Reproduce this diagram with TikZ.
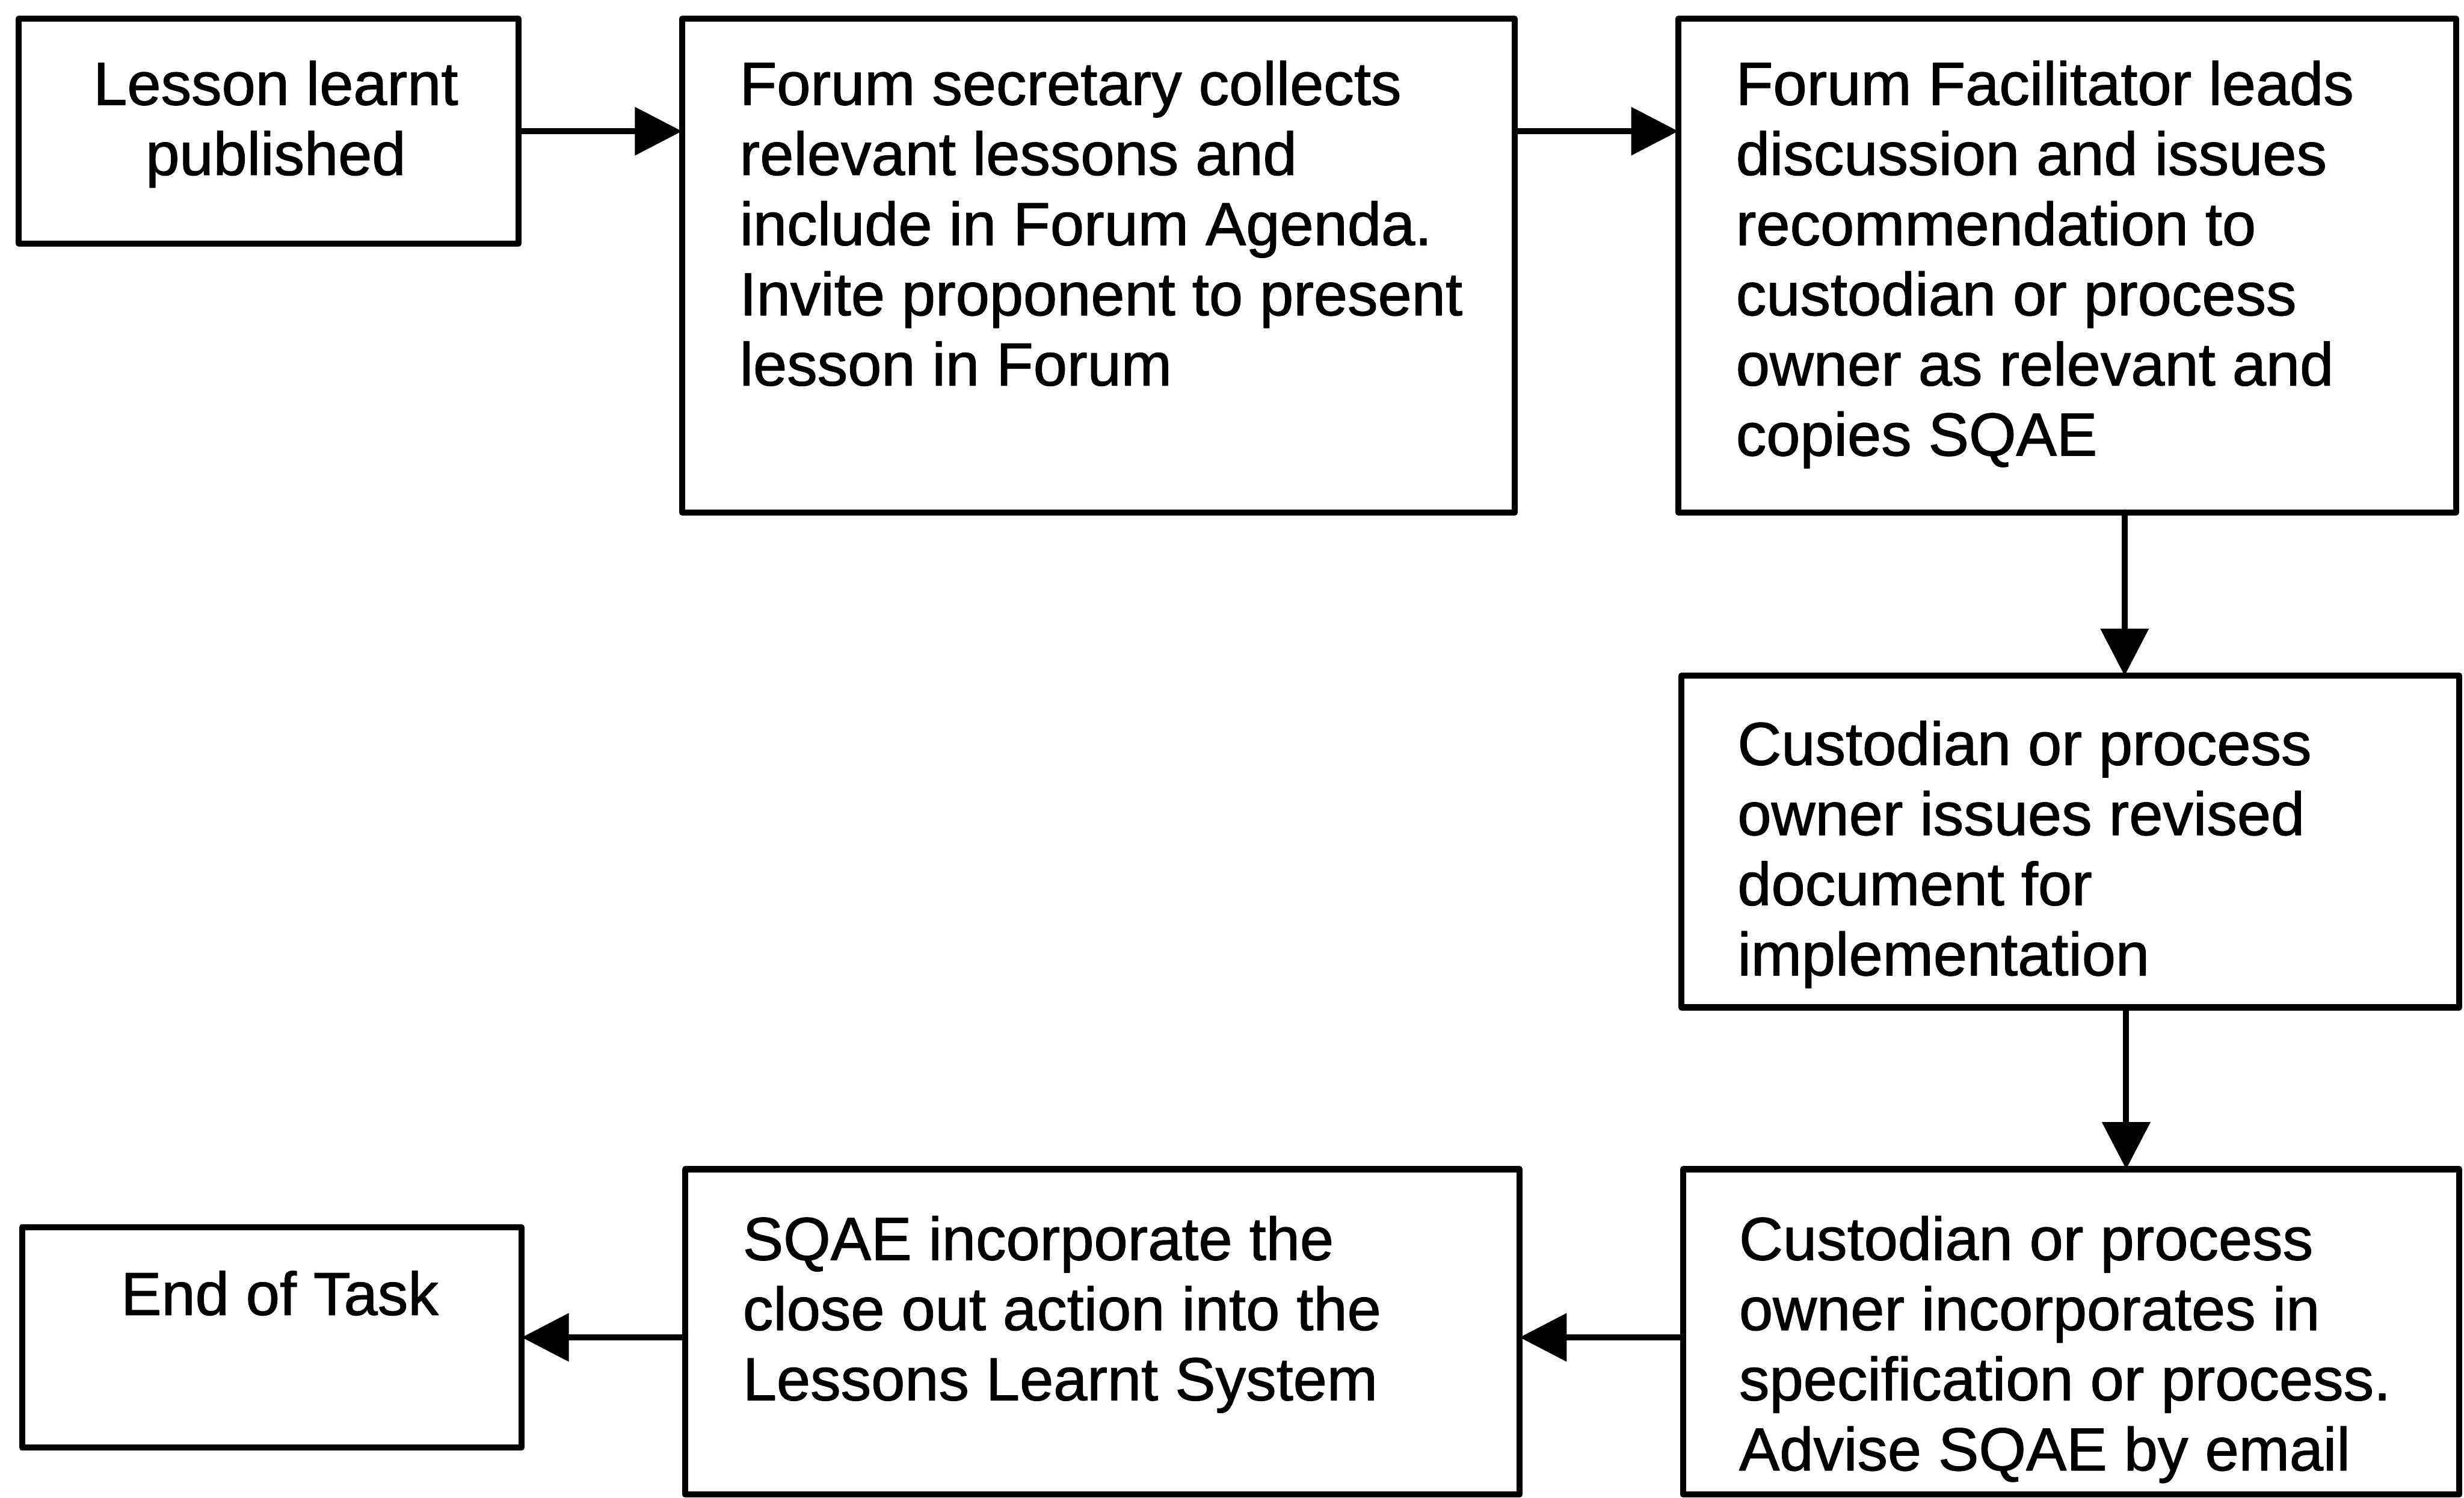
\documentclass[tikz,border=0pt]{standalone}
\usepackage{fontspec}
\setmainfont{Liberation Sans}
\newfontfamily\boxfont{Liberation Sans}[FakeBold=1.2]
\usetikzlibrary{arrows.meta}
\begin{document}
\begin{tikzpicture}[line cap = round, line join = round, >={Triangle[length=3mm,width=3mm]}]
			\tikzstyle{box}=[draw, line width=1.1pt, anchor=north west, inner sep=0pt, outer sep=0pt]
			\tikzstyle{txt}=[anchor=north west, inner sep=0pt, align=left, font=\boxfont\fontsize{11}{12.7}\selectfont]
			\tikzstyle{arr}=[->, line width=1.1pt]
			\useasboundingbox (0,0) rectangle (15.68,-9.53);
			% boxes
			\foreach \n/\x/\y/\w/\h in {pub/0.12/-0.12/3.18/1.43, collect/4.34/-0.12/5.30/3.14, lead/10.68/-0.12/4.95/3.14, revise/10.70/-4.30/4.95/2.11, incorp/10.71/-7.44/4.94/2.07, sqae/4.36/-7.44/5.31/2.07, end/0.14/-7.81/3.18/1.40} {\node[box, minimum width=\w cm, minimum height=\h cm] (\n) at (\x,\y) {};}
			% texts
			\foreach \n/\x/\y/\t in {collect/4.70/-0.38/{Forum secretary collects\\relevant lessons and\\include in Forum Agenda.\\Invite proponent to present\\lesson in Forum}, lead/11.04/-0.38/{Forum Facilitator leads\\discussion and issues\\recommendation to\\custodian or process\\owner as relevant and\\copies SQAE}, revise/11.05/-4.58/{Custodian or process\\owner issues revised\\document for\\implementation}, incorp/11.06/-7.73/{Custodian or process\\owner incorporates in\\specification or process.\\Advise SQAE by email}, sqae/4.72/-7.73/{SQAE incorporate the\\close out action into the\\Lessons Learnt System}} {\node[txt] (\n txt) at (\x,\y) {\t};}
			\node[txt, anchor=north, align=center] (pubtxt) at (1.755,-0.38) {Lesson learnt\\published};
			\node[txt, anchor=north, align=center] (endtxt) at (1.78,-8.08) {End of Task};
			% arrows
			\draw[arr] (pub.east) -- (collect.west |- pub.east);
			\draw[arr] (collect.east |- pub.east) -- (lead.west |- pub.east);
			\draw[arr] ([xshift=3.65mm]lead.south) -- ([xshift=3.65mm]lead.south |- revise.north);
			\draw[arr] ([xshift=3.55mm]revise.south) -- ([xshift=3.55mm]revise.south |- incorp.north);
			\draw[arr] (incorp.west |- end.east) -- (sqae.east |- end.east);
			\draw[arr] (sqae.west |- end.east) -- (end.east);
		\end{tikzpicture}
\end{document}
